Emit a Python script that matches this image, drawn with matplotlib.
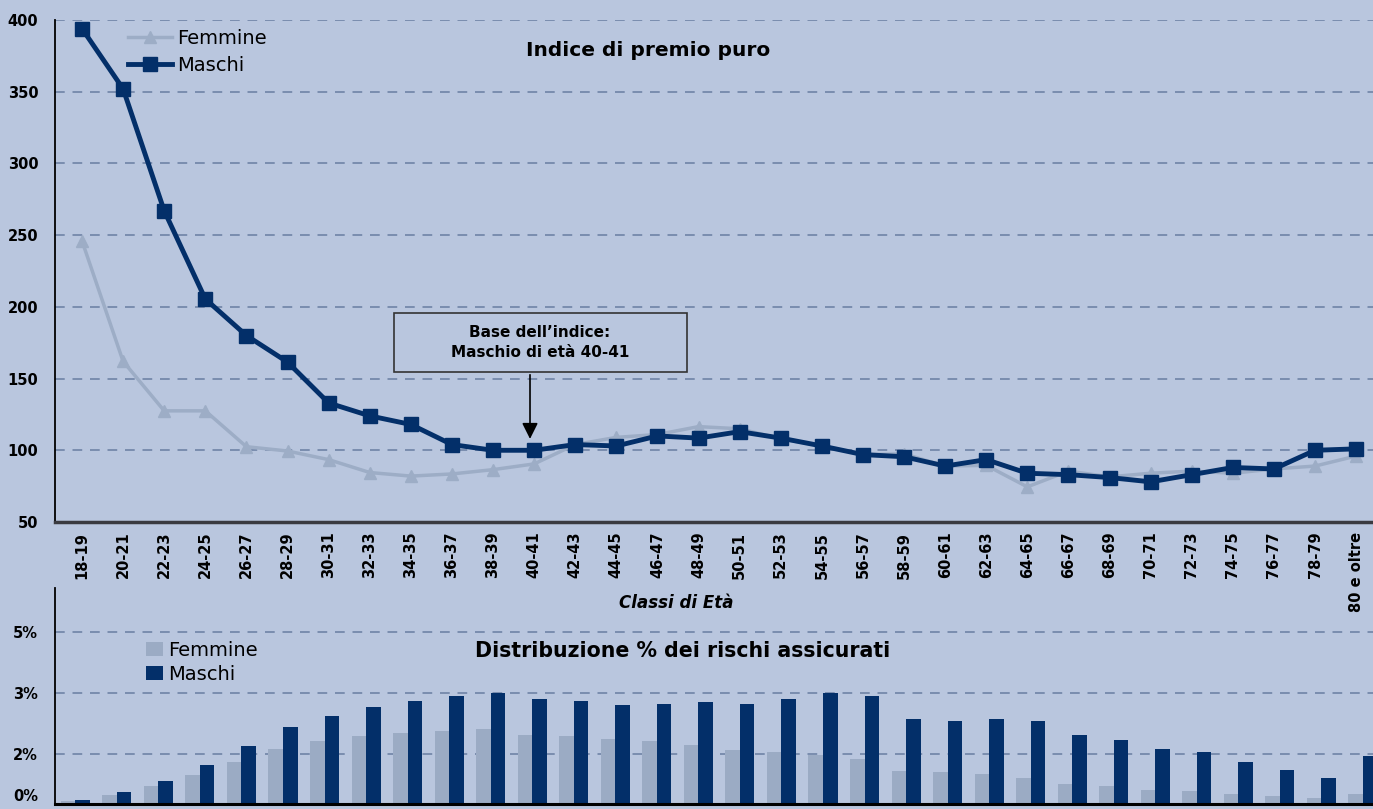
import numpy as np
import matplotlib
matplotlib.use("Agg")
import matplotlib.pyplot as plt
from matplotlib.patches import Rectangle

# classi di eta'
classi = ["18-19", "20-21", "22-23", "24-25", "26-27", "28-29", "30-31", "32-33",
          "34-35", "36-37", "38-39", "40-41", "42-43", "44-45", "46-47", "48-49",
          "50-51", "52-53", "54-55", "56-57", "58-59", "60-61", "62-63", "64-65",
          "66-67", "68-69", "70-71", "72-73", "74-75", "76-77", "78-79", "80 e oltre"]

# indice di premio puro
indice_femmine = [246, 162, 127.5, 127.5, 102.5, 99.5, 93.5, 84.5, 82, 83.5, 86.5, 90.5,
                  104, 109, 111, 116.5, 115, 108, 103, 97, 97.5, 89, 89.5, 74.5,
                  85.5, 81.5, 84, 85.5, 84, 87, 89, 96]
indice_maschi = [394, 352, 267, 205.5, 180, 161.5, 133, 124, 118, 104, 100, 100,
                 104, 103, 110, 108.5, 113, 108.5, 103, 97, 95.5, 89, 93.5, 84,
                 83, 81, 78, 83, 88, 87, 100, 101]

# distribuzione % dei rischi assicurati
distr_femmine = [0.37, 0.52, 0.76, 1.05, 1.39, 1.73, 1.94, 2.07, 2.14, 2.20, 2.25, 2.10,
                 2.07, 1.99, 1.94, 1.84, 1.71, 1.65, 1.57, 1.47, 1.15, 1.13, 1.08, 0.98,
                 0.82, 0.77, 0.66, 0.63, 0.56, 0.50, 0.45, 0.56]
distr_maschi = [0.39, 0.60, 0.89, 1.31, 1.81, 2.30, 2.60, 2.83, 2.99, 3.12, 3.20, 3.04,
                2.99, 2.89, 2.92, 2.96, 2.92, 3.04, 3.20, 3.12, 2.51, 2.47, 2.52, 2.47,
                2.10, 1.98, 1.73, 1.65, 1.39, 1.19, 0.98, 1.55]

bg = "#B9C6DE"
navy = "#032F69"
grigio = "#9DADC6"
griglia = "#7A8DAE"

W, H = 1373, 809
fig = plt.figure(figsize=(W / 100, H / 100), dpi=100, facecolor=bg)
plt.rcParams['font.family'] = ['DejaVu Sans']

x = np.arange(len(classi))

# ---- grafico distribuzione (sotto, disegnato prima)
ax2 = fig.add_axes([54.5 / W, 1 - 803.7 / H, (W - 54.5) / W, 215.7 / H])
ax2.patch.set_alpha(0)
w = 0.35
ax2.bar(x - w / 2, distr_femmine, width=w, color="#9BABC4", label="Femmine", zorder=3)
ax2.bar(x + w / 2, distr_maschi, width=w, color=navy, label="Maschi", zorder=3)
ax2.set_xlim(-0.5, 31.24)
ax2.set_ylim(0.3, 5.95)
ax2.set_yticks([0.3, 1.6, 3.2, 4.8])
ax2.yaxis.set_major_formatter(matplotlib.ticker.FormatStrFormatter("%.0f%%"))
ax2.yaxis.grid(True, ls=(0, (5, 4)), color=griglia, lw=1.4)
ax2.set_axisbelow(True)
ax2.set_xticks([])
ax2.tick_params(axis="y", length=0, pad=12, labelsize=10.5)
for t in ax2.get_yticklabels():
    t.set_fontweight("bold")
ax2.get_yticklabels()[0].set_va("bottom")
for s in ["top", "right"]:
    ax2.spines[s].set_visible(False)
ax2.spines["left"].set_linewidth(1.3)
ax2.spines["bottom"].set_linewidth(2.2)
ax2.spines["bottom"].set_zorder(5)
ax2.text(0.4767, 0.708, "Distribuzione % dei rischi assicurati", transform=ax2.transAxes,
         ha="center", va="center", fontsize=14.8, fontweight="bold")
ax2.legend(loc="upper left", bbox_to_anchor=(0.0694, 0.755), frameon=False, fontsize=14,
           handlelength=0.85, handleheight=0.7, handletextpad=0.3, borderpad=0,
           borderaxespad=0, labelspacing=0.24)

# ---- grafico indice
ax = fig.add_axes([55 / W, 1 - 522 / H, (W - 55) / W, 502 / H])
ax.set_facecolor(bg)
ax.plot(x, indice_femmine, color=grigio, lw=2.5, marker="^", ms=8, label="Femmine", zorder=3)
ax.plot(x, indice_maschi, color=navy, lw=3.5, marker="s", ms=10, label="Maschi", zorder=4)
ax.set_xlim(-0.657, 31.41)
ax.set_ylim(50, 400)
ax.set_yticks(range(50, 401, 50))
ax.yaxis.grid(True, ls=(0, (5, 4)), color=griglia, lw=1.4)
ax.set_axisbelow(True)
ax.set_xticks(x)
ax.set_xticklabels(classi, rotation=90, fontsize=10.5, fontweight="bold", va="top")
ax.tick_params(axis="both", length=0)
ax.tick_params(axis="y", pad=12, labelsize=10.5)
ax.tick_params(axis="x", pad=7)
for t in ax.get_yticklabels():
    t.set_fontweight("bold")
for s in ["top", "right"]:
    ax.spines[s].set_visible(False)
ax.spines["left"].set_color("black")
ax.spines["left"].set_linewidth(1.3)
ax.spines["bottom"].set_color("#3A3A40")
ax.spines["bottom"].set_linewidth(2.5)
ax.text(0.45, 0.94, "Indice di premio puro", transform=ax.transAxes, ha="center", va="center",
        fontsize=14.5, fontweight="bold")
ax.legend(loc="upper left", bbox_to_anchor=(0.0554, 0.983), frameon=False, fontsize=14,
          handlelength=2.25, handletextpad=0.3, borderpad=0, borderaxespad=0, labelspacing=0.44)

# riquadro base dell'indice
ax.add_patch(Rectangle((0.2572, 0.2988), 0.2223, 0.1175, transform=ax.transAxes,
                       facecolor=bg, edgecolor="#333333", lw=1.2, zorder=5))
ax.text(0.368, 0.3575, "Base dell\u2019indice:\nMaschio di età 40-41", transform=ax.transAxes,
        ha="center", va="center", fontsize=11, fontweight="bold", linespacing=1.45, zorder=6)
ax.annotate("", xy=(0.3604, 106), xycoords=("axes fraction", "data"),
            xytext=(0.3604, 0.2988), textcoords="axes fraction",
            arrowprops=dict(arrowstyle="-|>", color="black", lw=1.2, mutation_scale=24),
            zorder=6)

fig.text(676 / W, 1 - 603 / H, "Classi di Età", ha="center", va="center", fontsize=12,
         fontweight="bold", style="italic")

fig.savefig("out.png", dpi=100, facecolor=bg)
